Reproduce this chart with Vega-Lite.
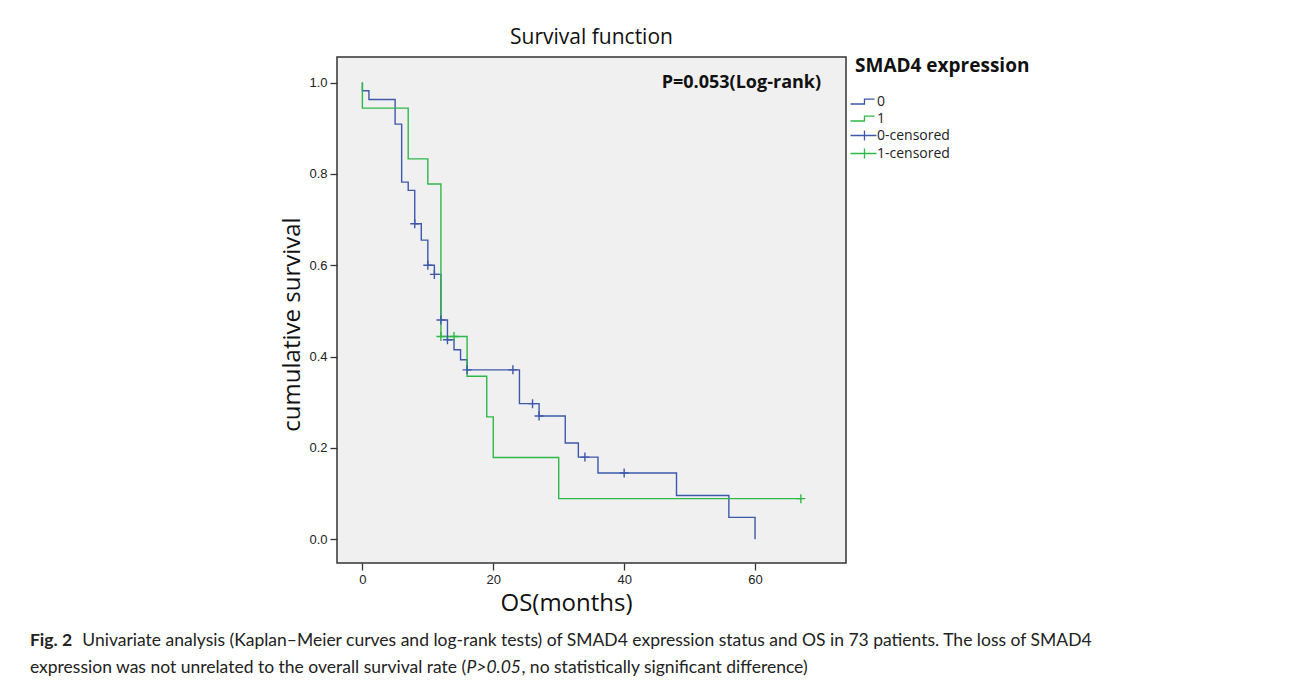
{
  "$schema": "https://vega.github.io/schema/vega-lite/v6.json",
  "width": 509,
  "height": 506,
  "autosize": {"type": "none"},
  "padding": {"left": 337, "top": 57, "right": 446, "bottom": 128},
  "background": "white",
  "config": {
    "view": {"fill": "#f0f0f0", "stroke": "#333333", "strokeWidth": 1.5},
    "font": "Open Sans"
  },
  "title": {"text": "Survival function", "fontSize": 21, "font": "Open Sans", "fontWeight": "normal", "color": "#111111", "anchor": "middle", "offset": 9},
  "datasets": {
    "curves": [
      {"lab": "0", "k": 0, "t": 0, "s": 1.0},
      {"lab": "0", "k": 1, "t": 0, "s": 0.982},
      {"lab": "0", "k": 2, "t": 1, "s": 0.963},
      {"lab": "0", "k": 3, "t": 5, "s": 0.909},
      {"lab": "0", "k": 4, "t": 6, "s": 0.782},
      {"lab": "0", "k": 5, "t": 7, "s": 0.764},
      {"lab": "0", "k": 6, "t": 8, "s": 0.691},
      {"lab": "0", "k": 7, "t": 9, "s": 0.655},
      {"lab": "0", "k": 8, "t": 10, "s": 0.6},
      {"lab": "0", "k": 9, "t": 11, "s": 0.58},
      {"lab": "0", "k": 10, "t": 12, "s": 0.48},
      {"lab": "0", "k": 11, "t": 13, "s": 0.437},
      {"lab": "0", "k": 12, "t": 14, "s": 0.415},
      {"lab": "0", "k": 13, "t": 15, "s": 0.393},
      {"lab": "0", "k": 14, "t": 16, "s": 0.371},
      {"lab": "0", "k": 15, "t": 24, "s": 0.297},
      {"lab": "0", "k": 16, "t": 27, "s": 0.27},
      {"lab": "0", "k": 17, "t": 31, "s": 0.211},
      {"lab": "0", "k": 18, "t": 33, "s": 0.18},
      {"lab": "0", "k": 19, "t": 36, "s": 0.145},
      {"lab": "0", "k": 20, "t": 48, "s": 0.096},
      {"lab": "0", "k": 21, "t": 56, "s": 0.048},
      {"lab": "0", "k": 22, "t": 60, "s": 0.0},
      {"lab": "1", "k": 0, "t": 0, "s": 1.0},
      {"lab": "1", "k": 1, "t": 0, "s": 0.944},
      {"lab": "1", "k": 2, "t": 7, "s": 0.833},
      {"lab": "1", "k": 3, "t": 10, "s": 0.778},
      {"lab": "1", "k": 4, "t": 12, "s": 0.444},
      {"lab": "1", "k": 5, "t": 16, "s": 0.357},
      {"lab": "1", "k": 6, "t": 19, "s": 0.268},
      {"lab": "1", "k": 7, "t": 20, "s": 0.179},
      {"lab": "1", "k": 8, "t": 30, "s": 0.089},
      {"lab": "1", "k": 9, "t": 67, "s": 0.089}
    ],
    "censors": [
      {"lab": "0-censored", "t": 8, "s": 0.691},
      {"lab": "0-censored", "t": 10, "s": 0.6},
      {"lab": "0-censored", "t": 11, "s": 0.58},
      {"lab": "0-censored", "t": 12, "s": 0.48},
      {"lab": "0-censored", "t": 13, "s": 0.437},
      {"lab": "0-censored", "t": 16, "s": 0.371},
      {"lab": "0-censored", "t": 23, "s": 0.371},
      {"lab": "0-censored", "t": 26, "s": 0.297},
      {"lab": "0-censored", "t": 27, "s": 0.27},
      {"lab": "0-censored", "t": 34, "s": 0.18},
      {"lab": "0-censored", "t": 40, "s": 0.145},
      {"lab": "1-censored", "t": 12, "s": 0.444},
      {"lab": "1-censored", "t": 14, "s": 0.444},
      {"lab": "1-censored", "t": 67, "s": 0.089}
    ],
    "notes": [
      {"t": 70.1, "s": 1.0, "txt": "P=0.053(Log-rank)"}
    ],
    "captionBold": [
      {"t": -50.8, "s": -0.2227, "txt": "Fig. 2"}
    ],
    "captionPlain": [
      {"t": -42.8, "s": -0.2227, "txt": "Univariate analysis (Kaplan–Meier curves and log-rank tests) of SMAD4 expression status and OS in 73 patients. The loss of SMAD4"},
      {"t": -50.8, "s": -0.2825, "txt": "expression was not unrelated to the overall survival rate ("},
      {"t": 24.3, "s": -0.2825, "txt": ", no statistically significant difference)"}
    ],
    "captionItalic": [
      {"t": 15.9, "s": -0.2825, "txt": "P>0.05"}
    ]
  },
  "encoding": {
    "x": {
      "field": "t", "type": "quantitative",
      "scale": {"domain": [-3.88, 73.9], "nice": false, "zero": false},
      "axis": {
        "values": [0, 20, 40, 60], "title": "OS(months)", "grid": false, "domain": false,
        "tickSize": 7, "tickColor": "#333333", "tickWidth": 1.3,
        "labelFont": "Liberation Sans", "labelFontSize": 13, "labelColor": "#222222", "labelPadding": 3,
        "titleFont": "Open Sans", "titleFontSize": 24, "titleFontWeight": "normal", "titleColor": "#111111",
        "titleX": 229, "titlePadding": 5
      }
    },
    "y": {
      "field": "s", "type": "quantitative",
      "scale": {"domain": [-0.0519, 1.056], "nice": false, "zero": false},
      "axis": {
        "values": [0, 0.2, 0.4, 0.6, 0.8, 1.0], "format": ".1f", "title": "cumulative survival", "grid": false, "domain": false,
        "tickSize": 7, "tickColor": "#333333", "tickWidth": 1.3,
        "labelFont": "Liberation Sans", "labelFontSize": 13, "labelColor": "#222222", "labelPadding": 3,
        "titleFont": "Open Sans", "titleFontSize": 24, "titleFontWeight": "normal", "titleColor": "#111111",
        "titleY": 267, "titlePadding": 4
      }
    }
  },
  "layer": [
    {
      "data": {"name": "curves"},
      "mark": {"type": "line", "interpolate": "step-after", "strokeWidth": 1.4},
      "encoding": {
        "order": {"field": "k", "type": "quantitative"},
        "color": {
          "field": "lab", "type": "nominal",
          "scale": {"domain": ["0", "1", "0-censored", "1-censored"], "range": ["#3E58AC", "#2EB848", "#3E58AC", "#2EB848"]},
          "legend": {
            "title": "SMAD4 expression", "orient": "right", "offset": 9, "padding": 0,
            "titleFont": "Open Sans", "titleFontSize": 19, "titleFontWeight": "bold", "titleColor": "#111111", "titlePadding": 17,
            "labelFont": "Open Sans", "labelFontSize": 14, "labelColor": "#222222", "labelOffset": 5,
            "rowPadding": 1, "symbolSize": 225, "symbolStrokeWidth": 1.3,
            "encode": {
              "symbols": {
                "update": {
                  "shape": {"signal": "(datum.value == '0' || datum.value == '1') ? 'M-1.73,0.33H0.13V-0.33H1.47' : 'M-1.73,0H1.73M0.13,-0.67V0.67'"},
                  "fill": {"value": "transparent"},
                  "stroke": {"signal": "scale('color', datum.value)"},
                  "strokeWidth": {"value": 1.3}
                }
              }
            }
          }
        }
      }
    },
    {
      "data": {"name": "censors"},
      "mark": {"type": "point", "shape": "M-1,0H1M0,-1V1", "filled": false, "size": 81, "strokeWidth": 1.4, "opacity": 1},
      "encoding": {
        "color": {"field": "lab", "type": "nominal"}
      }
    },
    {
      "data": {"name": "notes"},
      "mark": {"type": "text", "align": "right", "baseline": "middle", "font": "Open Sans", "fontSize": 18, "fontWeight": "bold", "color": "#111111"},
      "encoding": {"text": {"field": "txt"}}
    },
    {
      "data": {"name": "captionBold"},
      "mark": {"type": "text", "align": "left", "baseline": "middle", "font": "Lato", "fontSize": 17.5, "fontWeight": "bold", "color": "#222222"},
      "encoding": {"text": {"field": "txt"}}
    },
    {
      "data": {"name": "captionPlain"},
      "mark": {"type": "text", "align": "left", "baseline": "middle", "font": "Lato", "fontSize": 17.5, "color": "#222222"},
      "encoding": {"text": {"field": "txt"}}
    },
    {
      "data": {"name": "captionItalic"},
      "mark": {"type": "text", "align": "left", "baseline": "middle", "font": "Lato", "fontSize": 17.5, "fontStyle": "italic", "color": "#222222"},
      "encoding": {"text": {"field": "txt"}}
    }
  ]
}
